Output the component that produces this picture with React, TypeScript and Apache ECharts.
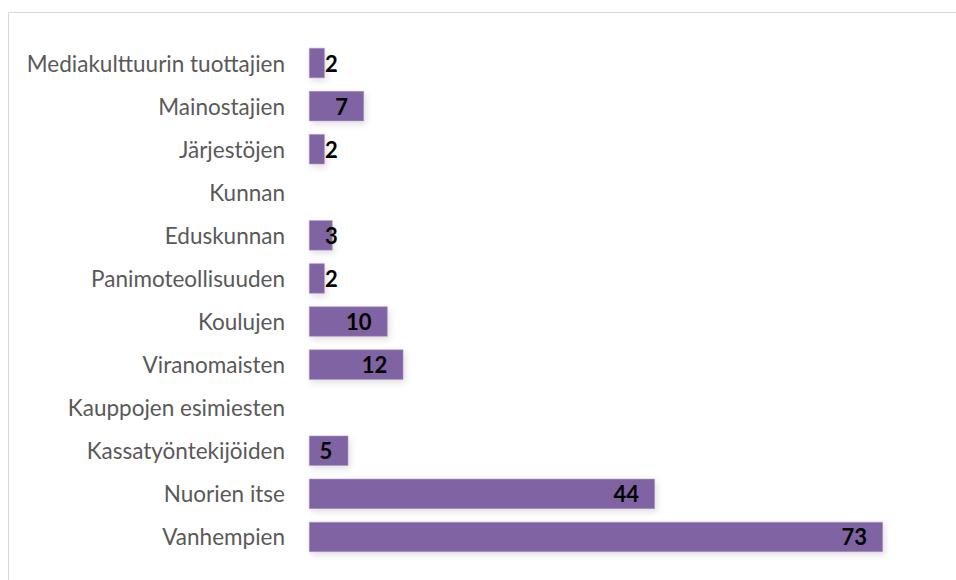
import React, { useEffect, useRef } from "react";
import * as echarts from "echarts";

const categories = [
  "Mediakulttuurin tuottajien",
  "Mainostajien",
  "Järjestöjen",
  "Kunnan",
  "Eduskunnan",
  "Panimoteollisuuden",
  "Koulujen",
  "Viranomaisten",
  "Kauppojen esimiesten",
  "Kassatyöntekijöiden",
  "Nuorien itse",
  "Vanhempien",
];
const values: (number | null)[] = [2, 7, 2, null, 3, 2, 10, 12, null, 5, 44, 73];

export default function App() {
  const ref = useRef<HTMLDivElement>(null);
  useEffect(() => {
    if (!ref.current) return;
    const chart = echarts.init(ref.current, undefined, { renderer: "svg" });
    const data = values.map((v) =>
      v === null
        ? { value: null }
        : v <= 3
        ? { value: v, label: { position: "insideLeft" as const, distance: 16 } }
        : { value: v }
    );
    chart.setOption({
      animation: false,
      backgroundColor: "#ffffff",
      grid: { left: 309, right: 18, top: 41.5, bottom: 21.5, containLabel: false },
      xAxis: {
        type: "value",
        min: 0,
        max: 80,
        show: false,
      },
      yAxis: {
        type: "category",
        data: categories,
        inverse: true,
        axisLine: { show: false },
        axisTick: { show: false },
        splitLine: { show: false },
        axisLabel: {
          color: "#595959",
          fontFamily: "Lato",
          fontSize: 22.5,
          margin: 24,
        },
      },
      graphic: [
        {
          type: "rect",
          shape: { x: 8.5, y: 12.5, width: 1000, height: 1000 },
          style: { fill: "none", stroke: "#d9d9d9", lineWidth: 1 },
          silent: true,
          z: -10,
        },
      ],
      series: [
        {
          type: "bar",
          data,
          barWidth: "70%",
          itemStyle: {
            color: "#8064A2",
            borderColor: "#a995c4",
            borderWidth: 0.6,
            shadowColor: "rgba(0,0,0,0.12)",
            shadowBlur: 6,
            shadowOffsetX: 2,
            shadowOffsetY: 3,
          },
          label: {
            show: true,
            position: "insideRight",
            distance: 16,
            color: "#000000",
            fontFamily: "Lato",
            fontWeight: "bold",
            fontSize: 22,
          },
        },
      ],
    });
    return () => chart.dispose();
  }, []);
  return <div ref={ref} style={{ width: 956, height: 580, position: "absolute", left: 0, top: 0 }} />;
}
